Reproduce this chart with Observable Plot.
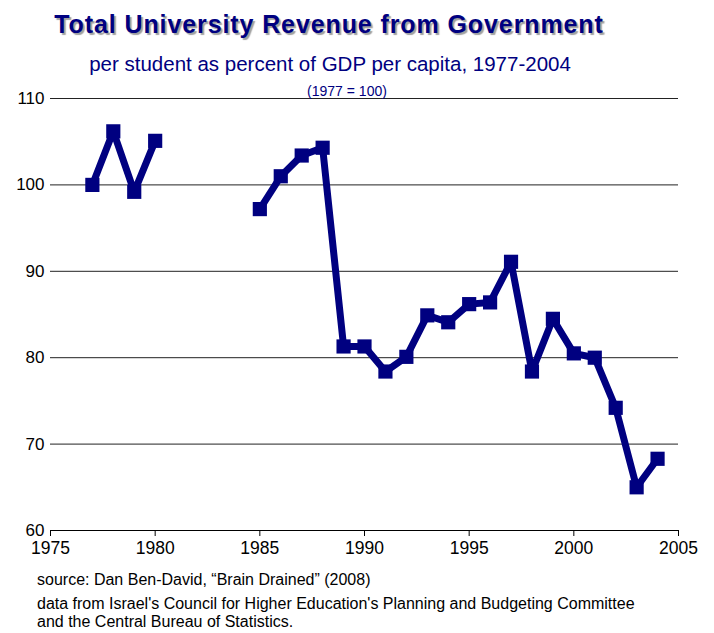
<!DOCTYPE html>
<html>
<head>
<meta charset="utf-8">
<script src="https://cdn.jsdelivr.net/npm/d3@7"></script>
<script src="https://cdn.jsdelivr.net/npm/@observablehq/plot@0.6"></script>
<style>
  html, body { margin: 0; padding: 0; background: #fff; }
  body { width: 714px; height: 633px; position: relative; overflow: hidden; font-family: "Liberation Sans", Arial, sans-serif; }
  .t { position: absolute; white-space: nowrap; z-index: 2; }
  #title { left: 29px; width: 600px; text-align: center; top: 11px; font-size: 25px; line-height: 27px; letter-spacing: 0.9px; font-weight: bold; color: #000080; text-shadow: 2px 2px 1px #a0a0a0; }
  #subtitle { left: 30px; width: 600px; text-align: center; top: 52px; font-size: 20.5px; line-height: 24px; color: #000080; }
  #note { left: 247px; width: 200px; text-align: center; top: 83px; font-size: 14px; line-height: 16px; color: #000080; }
  #chart { position: absolute; left: 0; top: 78px; z-index: 1; }
  .cap { font-size: 16px; line-height: 18px; color: #000; left: 37px; }
</style>
</head>
<body>
<div class="t" id="title">Total University Revenue from Government</div>
<div class="t" id="subtitle">per student as percent of GDP per capita, 1977-2004</div>
<div class="t" id="note">(1977 = 100)</div>
<div id="chart"></div>
<div class="t cap" style="top:571px">source: Dan Ben-David, “Brain Drained” (2008)</div>
<div class="t cap" style="top:595px">data from Israel's Council for Higher Education's Planning and Budgeting Committee</div>
<div class="t cap" style="top:613px">and the Central Bureau of Statistics.</div>
<script>
const years = [1977, 1978, 1979, 1980, 1981, 1982, 1983, 1984, 1985, 1986, 1987, 1988, 1989, 1990,
               1991, 1992, 1993, 1994, 1995, 1996, 1997, 1998, 1999, 2000, 2001, 2002, 2003, 2004];
const values = [100, 106.2, 99.2, 105.1, null, null, null, null, 97.2, 101.0, 103.4, 104.3, 81.3, 81.3,
                78.4, 80.1, 84.9, 84.1, 86.2, 86.4, 91.1, 78.4, 84.5, 80.5, 80.0, 74.2, 65.0, 68.3];
const xTicks = [1975, 1980, 1985, 1990, 1995, 2000, 2005];
const yTicks = [60, 70, 80, 90, 100, 110];

const data = years.map((year, i) => ({year, value: values[i]}));
const navy = "#000080";

const chart = Plot.plot({
  width: 714,
  height: 482,
  marginLeft: 50,
  marginRight: 36,
  marginTop: 20,
  marginBottom: 30,
  style: {fontFamily: "Liberation Sans, Arial, sans-serif", fontSize: "17px", color: "#000", background: "transparent"},
  x: {domain: [1975, 2005], ticks: xTicks, tickFormat: d3.format("d"), label: null},
  y: {domain: [60, 110], ticks: yTicks, label: null},
  marks: [
    Plot.ruleY(yTicks.filter(d => d > 60), {stroke: "#222", strokeWidth: 1}),
    Plot.ruleY([60], {stroke: "#000", strokeWidth: 1}),
    Plot.axisX({ticks: xTicks, tickFormat: d3.format("d"), tickSize: 6, tickPadding: 5, stroke: "#000", fontSize: 17.5}),
    Plot.axisY({ticks: yTicks, tickSize: 0, tickPadding: 6, fontSize: 17}),
    Plot.line(data, {x: "year", y: "value", stroke: navy, strokeWidth: 7, strokeLinejoin: "miter", strokeLinecap: "butt"}),
    Plot.dot(data.filter(d => d.value != null), {x: "year", y: "value", symbol: "square", r: 8, fill: navy, stroke: "none"})
  ]
});
document.getElementById("chart").appendChild(chart);
</script>
</body>
</html>
